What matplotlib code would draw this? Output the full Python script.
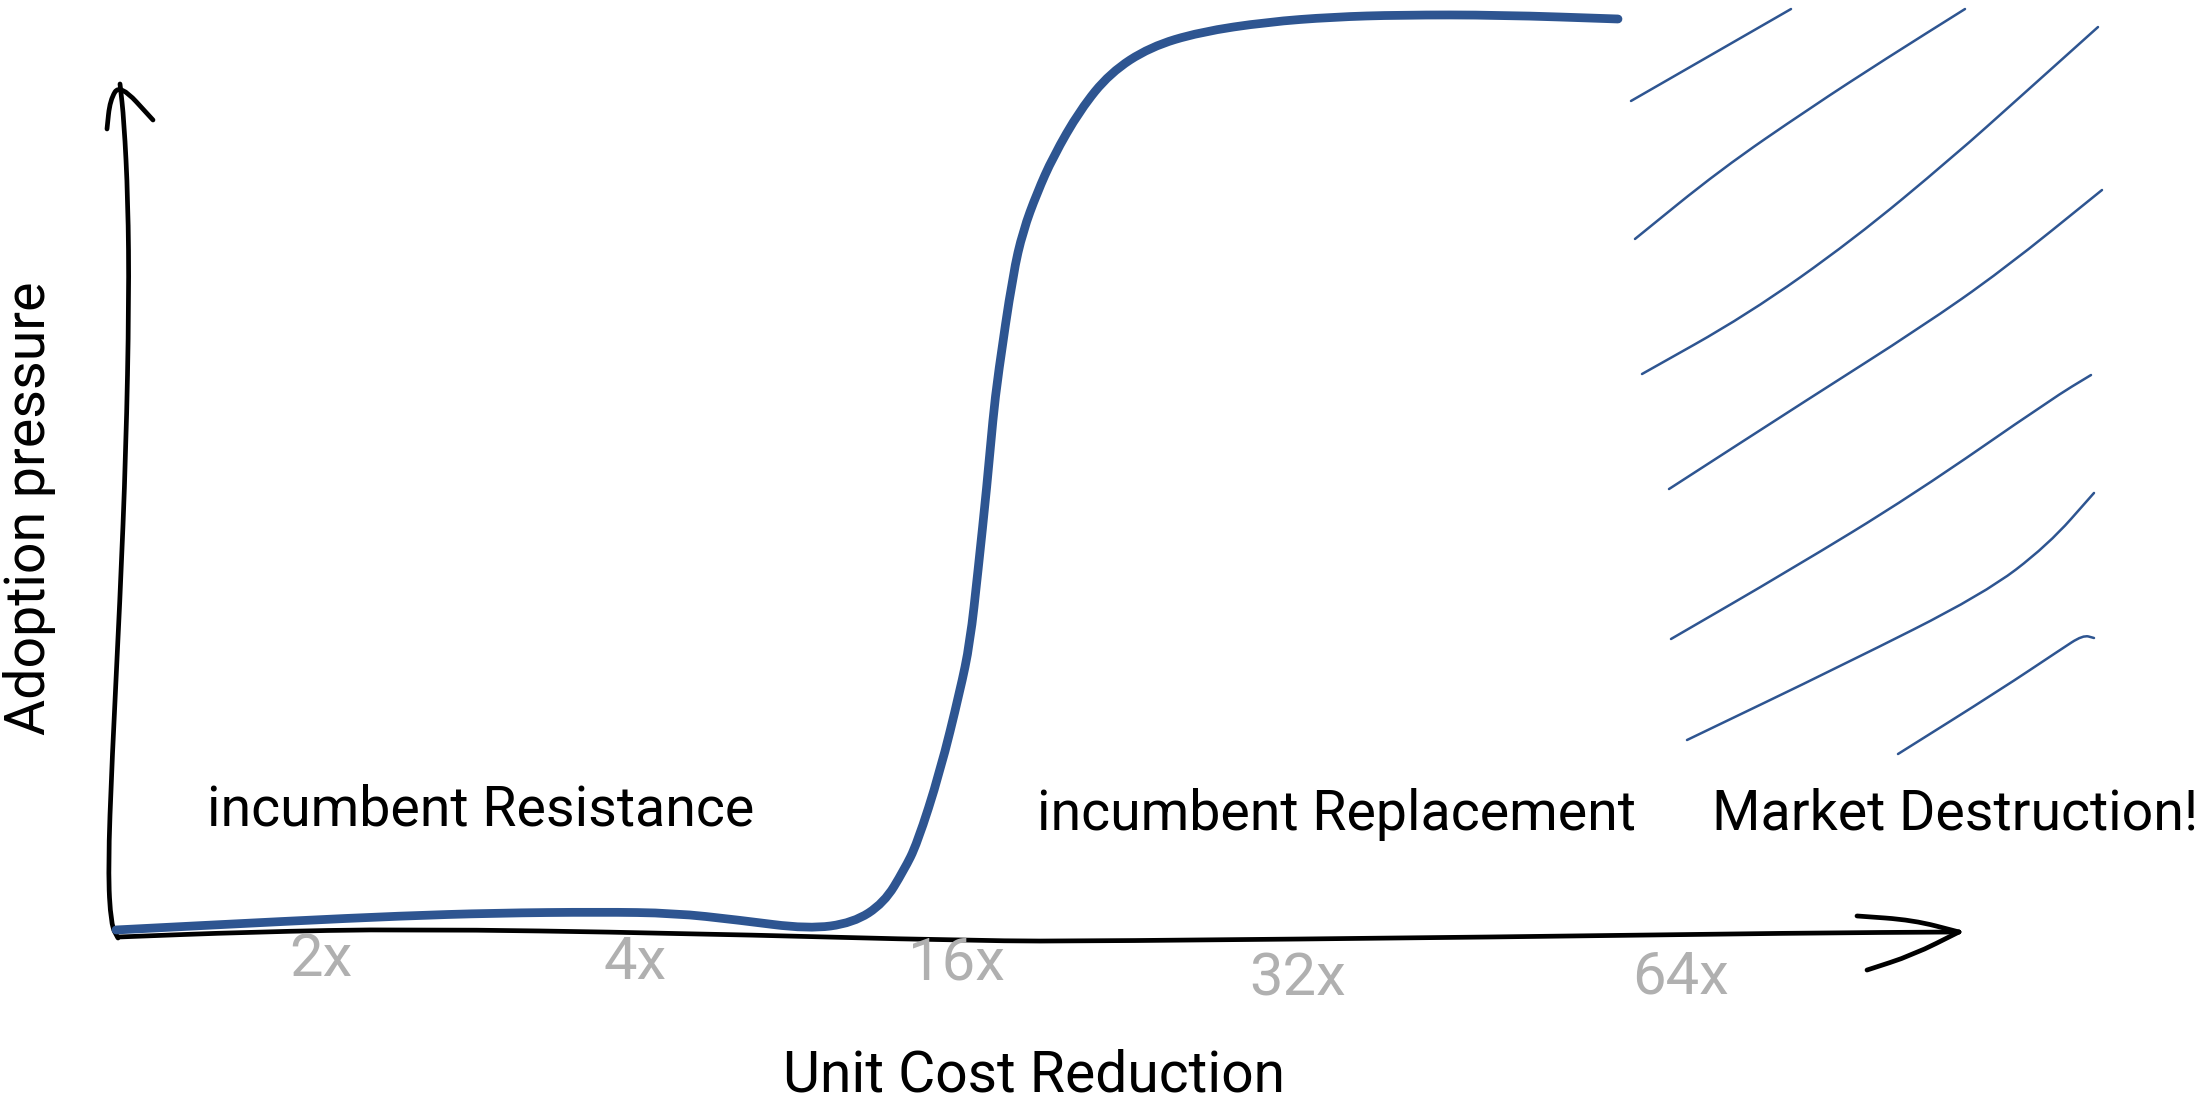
import matplotlib
matplotlib.use("Agg")
import matplotlib.pyplot as plt
from matplotlib.path import Path
from matplotlib.patches import PathPatch

# ---------------- data (x: position along cost axis, y: adoption pressure 0-100) ----
curve_x = [0.00, 1.75, 2.84, 3.79, 4.84, 5.58, 6.22, 6.92, 7.37, 7.68, 7.88, 8.01,
           8.24, 8.44, 8.54, 8.62, 8.71, 8.77, 8.82, 8.97, 9.07, 9.21, 9.37, 9.64,
           9.94, 10.34, 10.84, 11.51, 12.17, 12.84, 13.84, 15.02]
curve_y = [0.55, 1.53, 2.08, 2.40, 2.51, 2.40, 1.64, 0.66, 1.31, 3.50, 7.10, 9.95,
           17.81, 26.67, 31.91, 39.78, 49.18, 56.50, 61.20, 72.24, 76.94, 81.09, 85.03, 90.16,
           94.21, 97.05, 98.69, 99.78, 100.33, 100.55, 100.55, 100.11]

tick_labels = ["2x", "4x", "16x", "32x", "64x"]
tick_x = [2.05, 5.19, 8.40, 11.82, 15.64]
tick_y = [-2.73, -3.06, -3.06, -4.81, -4.59]

region_labels = ["incumbent Resistance", "incumbent Replacement", "Market Destruction!"]
region_x = [0.91, 9.21, 15.96]
region_y = [12.02, 11.48, 11.48]

x_label = "Unit Cost Reduction"
y_label = "Adoption pressure"

# hand-drawn axes
yaxis_x = [0.02, -0.05, -0.08, -0.04, 0.04, 0.10, 0.13, 0.12, 0.08, 0.04]
yaxis_y = [-0.33, 1.09, 7.10, 19.13, 36.61, 53.01, 69.40, 80.33, 89.07, 93.01]
yarrow_x = [-0.09, -0.06, 0.04, 0.37]
yarrow_y = [88.09, 91.26, 93.01, 89.07]

xaxis_x = [0.02, 1.34, 2.90, 5.58, 8.64, 9.84, 13.84, 16.84, 18.43]
xaxis_y = [-0.22, 0.33, 0.66, 0.22, -0.66, -0.66, -0.22, 0.22, 0.33]
xarrow_up_x = [17.41, 17.97, 18.43]
xarrow_up_y = [2.08, 1.64, 0.33]
xarrow_lo_x = [18.43, 17.97, 17.51]
xarrow_lo_y = [0.33, -2.19, -3.83]

# hachure strokes of the "Market Destruction" zone
hatch_x = [
    [15.15, 16.75],
    [15.19, 16.04, 16.94, 17.71, 18.49],
    [15.26, 16.31, 17.37, 18.37, 19.04, 19.82],
    [15.53, 16.94, 18.04, 18.87, 19.86],
    [15.55, 16.74, 17.97, 19.37, 19.75],
    [15.71, 17.27, 18.68, 19.32, 19.78],
    [17.82, 18.84, 19.44, 19.67, 19.78],
]
hatch_y = [
    [91.15, 101.20],
    [76.07, 83.61, 90.38, 95.85, 101.20],
    [61.31, 67.76, 75.96, 85.03, 91.58, 99.23],
    [48.74, 58.69, 66.34, 72.68, 81.42],
    [32.35, 39.89, 48.09, 58.69, 61.20],
    [21.31, 29.51, 37.27, 42.62, 48.31],
    [19.78, 26.78, 31.15, 32.79, 32.46],
]

# ---------------- drawing ----------------
BLUE = "#2e5591"
GRAY = "#b0b0b0"
FONT = ["Roboto", "DejaVu Sans"]


def smooth_stroke(ax, xs, ys, **kw):
    """Draw a stroke through the given vertices as a smooth quadratic-Bezier path."""
    n = len(xs)
    verts = [(xs[0], ys[0])]
    codes = [Path.MOVETO]
    if n == 2:
        verts.append((xs[1], ys[1]))
        codes.append(Path.LINETO)
    else:
        mids = [((xs[i] + xs[i + 1]) / 2, (ys[i] + ys[i + 1]) / 2) for i in range(n - 1)]
        verts.append(mids[0])
        codes.append(Path.LINETO)
        for i in range(1, n - 1):
            verts += [(xs[i], ys[i]), mids[i]]
            codes += [Path.CURVE3, Path.CURVE3]
        verts.append((xs[-1], ys[-1]))
        codes.append(Path.LINETO)
    patch = PathPatch(Path(verts, codes), facecolor="none", capstyle="round",
                      joinstyle="round", clip_on=False, **kw)
    ax.add_patch(patch)


W, H = 2202, 1103
fig = plt.figure(figsize=(W / 100, H / 100), dpi=100)
fig.patch.set_facecolor("white")
ax = fig.add_axes([116 / W, (H - 935) / H, 1500 / W, 915 / H])
ax.set_xlim(0, 15)
ax.set_ylim(0, 100)
ax.axis("off")

for xs, ys in [(yaxis_x, yaxis_y), (yarrow_x, yarrow_y), (xaxis_x, xaxis_y),
               (xarrow_up_x, xarrow_up_y), (xarrow_lo_x, xarrow_lo_y)]:
    smooth_stroke(ax, xs, ys, edgecolor="black", lw=3.4)

for hx, hy in zip(hatch_x, hatch_y):
    smooth_stroke(ax, hx, hy, edgecolor=BLUE, lw=1.8)

smooth_stroke(ax, curve_x, curve_y, edgecolor=BLUE, lw=6.3, zorder=5)

for lab, tx, ty in zip(tick_labels, tick_x, tick_y):
    ax.text(tx, ty, lab, color=GRAY, fontsize=43, ha="center", va="center",
            family=FONT, clip_on=False)

for lab, rx, ry in zip(region_labels, region_x, region_y):
    ax.text(rx, ry, lab, color="black", fontsize=40, ha="left", va="baseline",
            family=FONT, clip_on=False)

ax.text(9.18, -17.05, x_label, fontsize=41, ha="center", va="baseline",
        family=FONT, clip_on=False)
ax.text(-0.86, 46.67, y_label, fontsize=40, ha="center", va="center",
        rotation=90, family=FONT, clip_on=False)

fig.savefig("out.png", dpi=100, facecolor="white")
